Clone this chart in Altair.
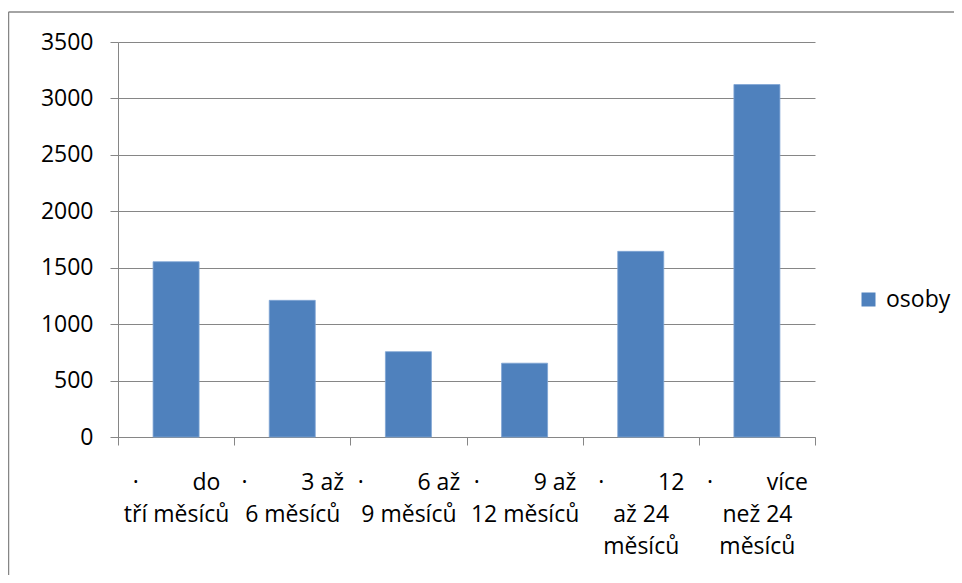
import altair as alt
import pandas as pd

GAP = "\u00a0" * 9
categories = [
    "·" + GAP + "do\ntří měsíců",
    "·" + GAP + "3 až\n6 měsíců",
    "·" + GAP + "6 až\n9 měsíců",
    "·" + GAP + "9 až\n12 měsíců",
    "·" + GAP + "12\naž 24\nměsíců",
    "·" + GAP + "více\nnež 24\nměsíců",
]
values = [1553, 1211, 756, 654, 1645, 3123]
series_name = "osoby"
y_ticks = [0, 500, 1000, 1500, 2000, 2500, 3000, 3500]

df = pd.DataFrame({
    "kategorie": categories,
    "osoby": values,
    "serie": [series_name] * len(values),
})

FONT = "Open Sans"
GREY = "#868686"
BLUE = "#4F81BD"

bars = alt.Chart(df).mark_bar(
    width={"band": 0.396}, stroke="#7FA4D4", strokeWidth=0.8
).encode(
    x=alt.X(
        "kategorie:N", sort=None, title=None,
        scale=alt.Scale(paddingInner=0, paddingOuter=0),
        axis=alt.Axis(
            labelExpr="split(datum.label, '\\n')",
            labelAngle=0, labelAlign="center", labelBaseline="top",
            tickBand="extent", tickSize=8, labelPadding=26,
            labelLineHeight=32, labelLimit=400, labelOverlap=False,
            labelFlush=False, grid=False,
        ),
    ),
    y=alt.Y(
        "osoby:Q", title=None,
        scale=alt.Scale(domain=[0, 3500], nice=False),
        axis=alt.Axis(values=y_ticks, format="d", tickSize=8, labelPadding=17, grid=True),
    ),
    color=alt.Color(
        "serie:N", scale=alt.Scale(range=[BLUE]),
        legend=alt.Legend(
            title=None, orient="none", legendX=739, legendY=246,
            symbolType="square", symbolSize=196, symbolStrokeWidth=0,
            labelOffset=6, labelFont=FONT, labelFontSize=23, labelColor="#000000",
        ),
    ),
)

frame_data = alt.Data(values=[{"f": 1}])
frame_left = alt.Chart(frame_data).mark_rule(color=GREY, strokeWidth=1.5).encode(
    x=alt.value(-109.5), y=alt.value(-30), y2=alt.value(560)
)
frame_top = alt.Chart(frame_data).mark_rule(color=GREY, strokeWidth=1.5).encode(
    x=alt.value(-109.5), x2=alt.value(860), y=alt.value(-30)
)

chart = alt.layer(frame_left, frame_top, bars).properties(
    width=697, height=395,
    autosize=alt.AutoSizeParams(type="none"),
    padding={"left": 110, "top": 34, "right": 139, "bottom": 138},
).configure_view(stroke=None).configure_axis(
    labelFont=FONT, labelFontSize=23, labelColor="#000000",
    domainColor=GREY, tickColor=GREY, gridColor=GREY,
    domainWidth=1, tickWidth=1, gridWidth=1,
)

chart.save("out.html", embed_options={"renderer": "svg", "actions": False})
